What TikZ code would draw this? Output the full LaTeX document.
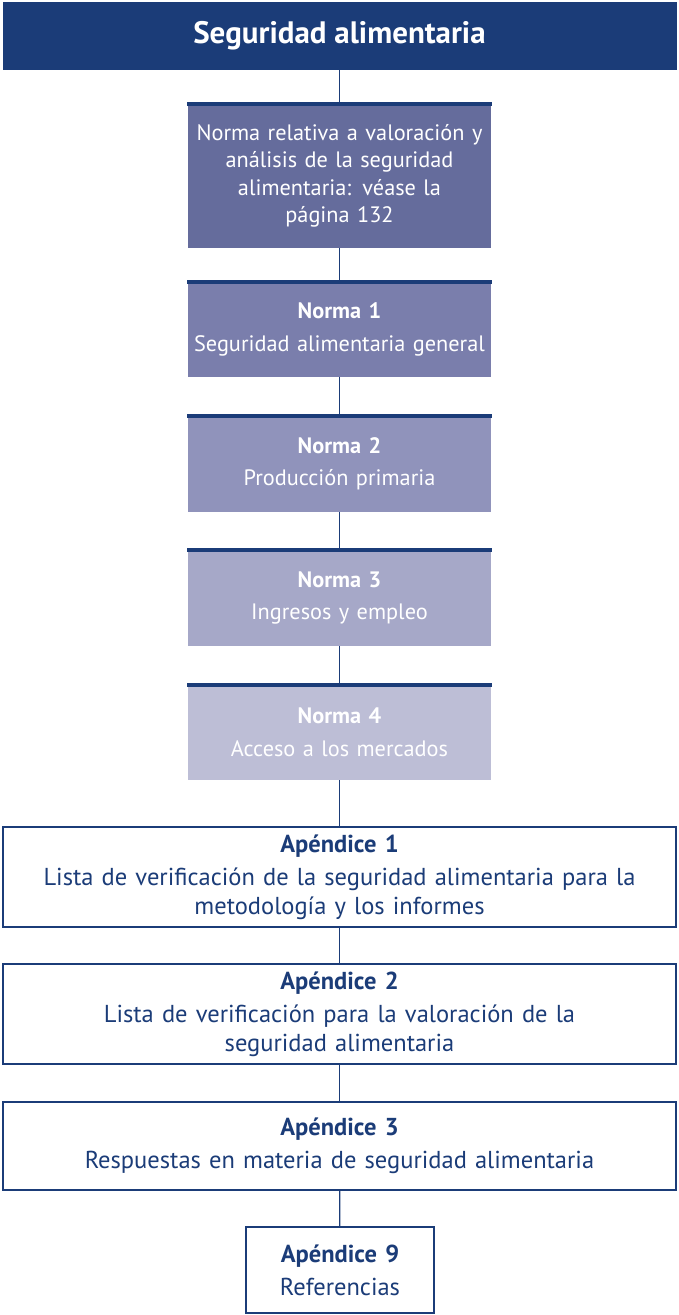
\documentclass[tikz,border=0pt]{standalone}
\usepackage{fontspec}
\setmainfont{PT Sans}
\definecolor{navy}{HTML}{1B3C78}
\definecolor{shadeA}{HTML}{656C9C}
\definecolor{shadeB}{HTML}{7A7EAC}
\definecolor{shadeC}{HTML}{9093BB}
\definecolor{shadeD}{HTML}{A6A8C8}
\definecolor{shadeE}{HTML}{BDBED6}
\tikzset{
  titlebox/.style={fill=navy, text=white, minimum width=674pt, minimum height=68pt,
    font=\fontsize{31}{36}\selectfont\bfseries},
  normabox/.style={fill=#1, text=white, minimum width=303pt, text width=297pt,
    align=center, font=\fontsize{22.3}{27.5}\selectfont},
  apbox/.style={draw=navy, line width=2pt, fill=white, text=navy, text width=650pt,
    align=center, font=\fontsize{24.5}{29}\selectfont},
  topbar/.style={navy, line width=3.5pt},
  link/.style={navy, line width=1.3pt}
}
\begin{document}
\begin{tikzpicture}[x=1pt,y=-1pt]
		\useasboundingbox (0,0) rectangle (678,1315);
		\node[titlebox] (title) at (339.5,36) {Seguridad alimentaria};
		\node[normabox=shadeA, minimum height=144pt] (valor) at (339.5,176) {Norma relativa a valoración y\\ análisis de la seguridad\\ alimentaria: véase la\\ página 132};
		\node[normabox=shadeB, minimum height=95pt] (n1) at (339.5,329.5) {\textbf{Norma 1}\\[5pt] Seguridad alimentaria general};
		\node[normabox=shadeC, minimum height=96pt] (n2) at (339.5,464) {\textbf{Norma 2}\\[5pt] Producción primaria};
		\node[normabox=shadeD, minimum height=96pt] (n3) at (339.5,598) {\textbf{Norma 3}\\[5pt] Ingresos y empleo};
		\node[normabox=shadeE, minimum height=95pt] (n4) at (339.5,732.5) {\textbf{Norma 4}\\[5pt] Acceso a los mercados};
		\node[apbox, minimum width=673pt, minimum height=100pt] (ap1) at (339.5,877) {\textbf{Apéndice 1}\\[4pt] Lista de verificación de la seguridad alimentaria para la\\ metodología y los informes};
		\node[apbox, minimum width=673pt, minimum height=100pt] (ap2) at (339.5,1014) {\textbf{Apéndice 2}\\[4pt] Lista de verificación para la valoración de la\\ seguridad alimentaria};
		\node[apbox, minimum width=673pt, minimum height=88pt] (ap3) at (339.5,1146) {\textbf{Apéndice 3}\\[4pt] Respuestas en materia de seguridad alimentaria};
		\node[apbox, text width=180pt, minimum width=188pt, minimum height=86pt] (ap9) at (340,1270) {\textbf{Apéndice 9}\\[4pt] Referencias};
		%
		\foreach \n in {valor,n1,n2,n3,n4}
			\draw[topbar] (\n.north west) -- (\n.north east);
		%
		\draw[link] (title) -- (valor);
		\draw[link] (valor) -- (n1);
		\draw[link] (n1) -- (n2);
		\draw[link] (n2) -- (n3);
		\draw[link] (n3) -- (n4);
		\draw[link] (n4) -- (ap1);
		\draw[link] (ap1) -- (ap2);
		\draw[link] (ap2) -- (ap3);
		\draw[link] (ap3) -- (ap9);
	\end{tikzpicture}
\end{document}
